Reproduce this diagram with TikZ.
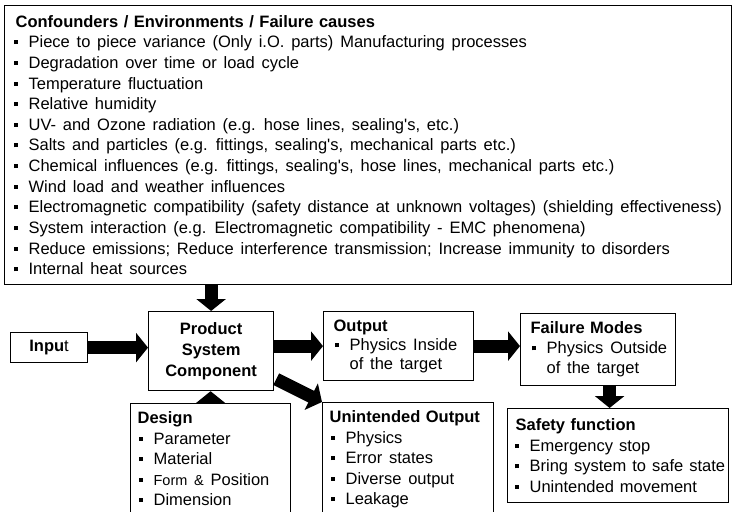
\documentclass[tikz,border=0pt]{standalone}
\usepackage{fontspec}
\setmainfont{Liberation Sans}
\usetikzlibrary{arrows.meta, calc}

% bullet line that never breaks
\newcommand{\itmsp}{6.8pt}
\newcommand{\itm}[2][1pt]{\mbox{\spaceskip=\itmsp plus 1pt minus 1pt\relax
    \hspace*{#1}\makebox[15pt][l]{\rule[3.5pt]{4pt}{4pt}}#2}}
\newcommand{\hang}[1]{\mbox{\spaceskip=\itmsp\relax\hspace*{16pt}#1}}
\newcommand{\boxfont}[1]{\fontsize{16.5}{#1}\selectfont}

\begin{document}
\begin{tikzpicture}[x=1pt, y=-1pt,
    BOX/.style = {rectangle, draw, line width=1.2pt,
                  anchor=north west, align=left,
                  inner xsep=7pt, inner ysep=0pt,
                  font=\boxfont{20.5}},
    ARR/.style = {line width=13pt, -{Triangle[length=12pt, width=29pt]}}
                            ]
    \useasboundingbox (0,0) rectangle (735,511);

    % confounders on top
    \node (conf) [BOX, inner xsep=4pt, text width=719pt, minimum height=279pt,
                  font=\boxfont{20.65}] at (4,5)
        {\hspace*{7pt}\textbf{Confounders / Environments / Failure causes}\\
         \itm[5pt]{Piece to piece variance (Only i.O. parts) Manufacturing processes}\\
         \itm[5pt]{Degradation over time or load cycle}\\
         \itm[5pt]{Temperature fluctuation}\\
         \itm[5pt]{Relative humidity}\\
         \itm[5pt]{UV- and Ozone radiation (e.g. hose lines, sealing\textquotesingle s, etc.)}\\
         \itm[5pt]{Salts and particles (e.g. fittings, sealing\textquotesingle s, mechanical parts etc.)}\\
         \itm[5pt]{Chemical influences (e.g. fittings, sealing\textquotesingle s, hose lines, mechanical parts etc.)}\\
         \itm[5pt]{Wind load and weather influences}\\
         \itm[5pt]{Electromagnetic compatibility (safety distance at unknown voltages) (shielding effectiveness)}\\
         \itm[5pt]{System interaction (e.g. Electromagnetic compatibility - EMC phenomena)}\\
         \itm[5pt]{Reduce emissions; Reduce interference transmission; Increase immunity to disorders}\\
         \itm[5pt]{Internal heat sources}\\[-3pt]};

    % middle row
    \node (inp)  [BOX, align=center, text width=63pt,
                  minimum height=30pt] at (10,332)  {\textbf{Inpu}t};
    \node (prod) [BOX, align=center, text width=111pt, minimum height=79pt,
                  font=\boxfont{21}\bfseries] at (148,311)
        {Product\\System\\Component};
    \node (out)  [BOX, inner xsep=10pt, text width=130pt, minimum height=69pt,
                  font=\boxfont{19}] at (323,311)
        {\textbf{Output}\\
         \itm{Physics Inside}\\
         \hang{of the target}};
    \node (fail) [BOX, inner xsep=10pt, text width=135pt, minimum height=72pt,
                  font=\boxfont{20}] at (520,313)
        {\textbf{Failure Modes}\\
         \itm{Physics Outside}\\
         \hang{of the target}};

    % lower row
    \node (des)  [BOX, inner ysep=8pt, text width=146pt, text depth=100pt] at (130,403)
        {\textbf{Design}\\
         \itm{Parameter}\\
         \itm{Material}\\
         \itm{{\fontsize{14.5}{20.5}\selectfont Form \&} Position}\\
         \itm{Dimension}};
    \node (unint) [BOX, inner ysep=8pt, text width=157pt, text depth=100pt] at (322,402)
        {\textbf{Unintended Output}\\
         \itm{Physics}\\
         \itm{Error states}\\
         \itm{Diverse output}\\
         \itm{Leakage}};
    \node (safe) [BOX, inner xsep=6pt, text width=209pt, minimum height=94pt,
                  font=\boxfont{20.5}\def\itmsp{6pt}] at (507,408)
        {\hspace*{2pt}\textbf{Safety function}\\
         \itm{Emergency stop}\\
         \itm{Bring system to safe state}\\
         \itm{Unintended movement}};

    % block arrows
    \draw[ARR] (conf.south -| prod.north) -- (prod.north);
    \draw[ARR] (inp.east) -- (inp.east -| prod.west);
    \draw[ARR] (prod.east |- out.west) -- (out.west);
    \draw[ARR] (out.east) -- (out.east -| fail.west);
    \draw[ARR] (des.north) -- (des.north |- prod.south);
    \draw[ARR] ($(prod.south east)+(2,-12)$) -- (unint.north west);
    \coordinate (fs) at ($(fail.south)+(11.5,0)$);
    \draw[ARR] (fs) -- (fs |- safe.north);
\end{tikzpicture}
\end{document}
